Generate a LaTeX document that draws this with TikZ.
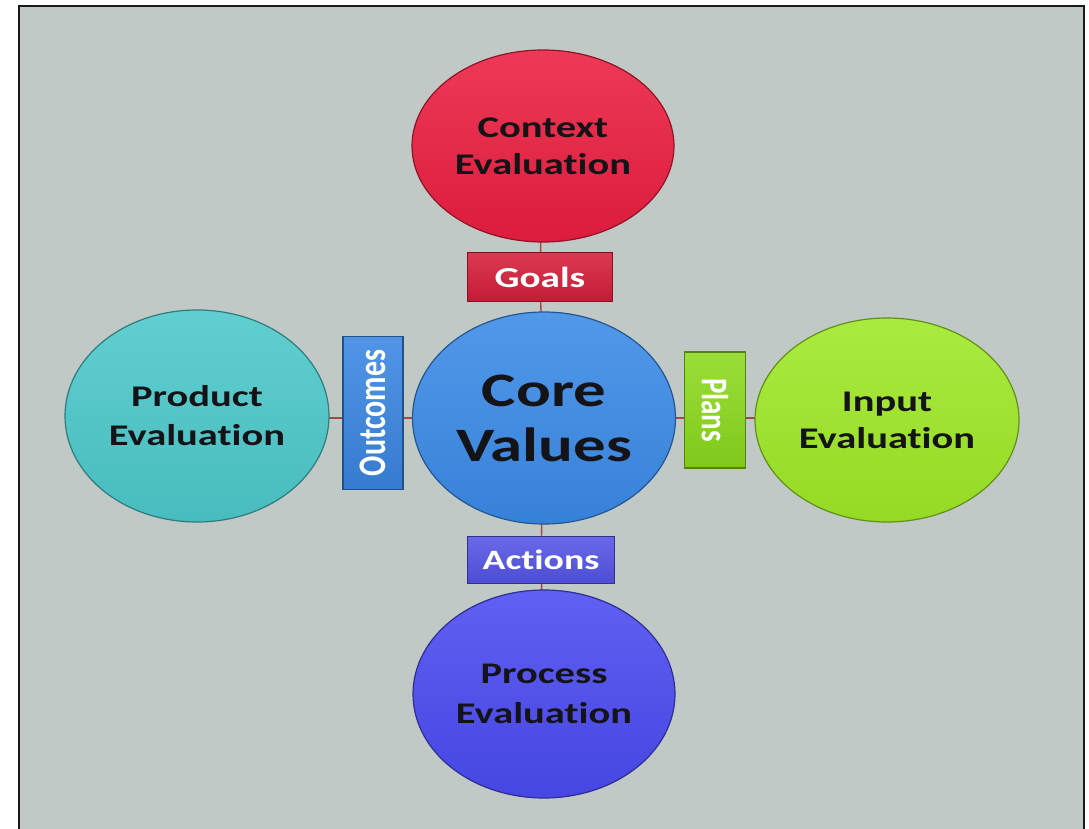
\documentclass[tikz,border=0pt]{standalone}
\usepackage{fontspec}
\setmainfont{Carlito}[FakeStretch=1.35, Ligatures=NoCommon]
\newfontfamily\plainf{Carlito}[Ligatures=NoCommon]
\usetikzlibrary{shapes.geometric,backgrounds}
\definecolor{bg}{HTML}{C0C9C5}
\definecolor{redE}{HTML}{EA1E40}
\definecolor{blueE}{HTML}{3A8AE6}
\definecolor{tealE}{HTML}{4CC8CA}
\definecolor{greenE}{HTML}{9EE826}
\definecolor{purpE}{HTML}{4A4AF0}
\definecolor{redB}{HTML}{D61E3A}
\definecolor{blueB}{HTML}{3A86E2}
\definecolor{greenB}{HTML}{8CDA1E}
\definecolor{purpB}{HTML}{5454E6}
\definecolor{connC}{HTML}{A04848}
\definecolor{txt}{HTML}{141418}
\begin{document}
\begin{tikzpicture}[x=1pt,y=-1pt,
  ell/.style={ellipse, inner sep=0pt, line width=1.2pt, draw=#1!62!black,
    top color=#1!88!white, bottom color=#1!94!black,
    font=\bfseries\fontsize{30}{37}\selectfont, text=txt, align=center},
  lbl/.style={rectangle, inner sep=0pt, line width=1.2pt, draw=#1!60!black,
    top color=#1!88!white, bottom color=#1!92!black,
    font=\bfseries\fontsize{29}{30}\selectfont, text=white},
  vlbl/.style={lbl=#1, font=\plainf\bfseries\fontsize{30}{30}\selectfont},
  conn/.style={draw=connC, line width=1.4pt}]
\useasboundingbox (0,0) rectangle (1089,829);

\node[ell=redE, minimum width=262pt, minimum height=192pt] (ctx) at (543,146) {Context\\Evaluation};
\node[ell=blueE, minimum width=263pt, minimum height=212pt, font=\bfseries\fontsize{48}{55}\selectfont] (core) at (544,418) {Core\\Values};
\node[ell=tealE, minimum width=264pt, minimum height=212pt, font=\bfseries\fontsize{30}{39}\selectfont] (prod) at (197,416) {Product\\Evaluation};
\node[ell=greenE, minimum width=264pt, minimum height=204pt] (inp) at (887,420) {Input\\Evaluation};
\node[ell=purpE, minimum width=262pt, minimum height=208pt, font=\bfseries\fontsize{30}{40}\selectfont] (proc) at (544,694) {Process\\Evaluation};

\node[lbl=redB, minimum width=145pt, minimum height=49pt] (goals) at (540,277) {Goals};
\node[lbl=purpB, minimum width=147pt, minimum height=47pt, font=\bfseries\fontsize{28}{30}\selectfont] (act) at (541,560) {Actions};
\node[vlbl=blueB, minimum width=60pt, minimum height=153pt] (outc) at (373,413) {\rotatebox{90}{\scalebox{1}[1.3]{Outcomes}}};
\node[vlbl=greenB, minimum width=61pt, minimum height=116pt, font=\plainf\bfseries\fontsize{29}{30}\selectfont] (plans) at (715,410) {\rotatebox{-90}{\scalebox{1}[1.3]{Plans}}};

\begin{scope}[on background layer]
\fill[white] (0,0) rectangle (1089,829);
\fill[bg] (19,6) rectangle (1084,829);
\draw[black!90, line width=2.2pt] (19,840) -- (19,6) -- (1084,6) -- (1084,840);
\draw[conn] (ctx.center) -- (goals.center);
\draw[conn] (goals.center) -- (core.center);
\draw[conn] (core.center) -- (act.center);
\draw[conn] (act.center) -- (proc.center);
\draw[conn] (prod.center |- core.center) -- (outc.center |- core.center);
\draw[conn] (outc.center |- core.center) -- (core.center);
\draw[conn] (core.center) -- (plans.center |- core.center);
\draw[conn] (plans.center |- core.center) -- (inp.center |- core.center);
\end{scope}
\end{tikzpicture}
\end{document}
